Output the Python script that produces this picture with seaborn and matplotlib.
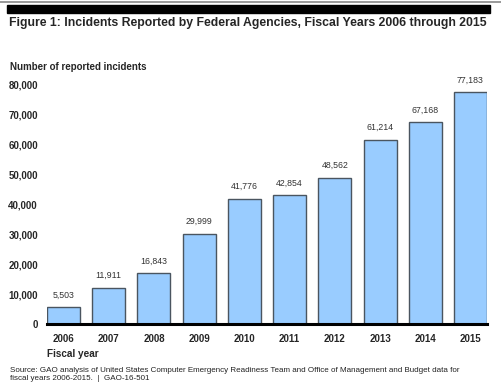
import matplotlib
matplotlib.use("Agg")
import matplotlib.pyplot as plt
import seaborn as sns
import pandas as pd

years = ["2006", "2007", "2008", "2009", "2010", "2011", "2012", "2013", "2014", "2015"]
incidents = [5503, 11911, 16843, 29999, 41776, 42854, 48562, 61214, 67168, 77183]
yticks = [0, 10000, 20000, 30000, 40000, 50000, 60000, 70000, 80000]

df = pd.DataFrame({"year": years, "incidents": incidents})

sns.set_theme(style="white")
plt.rcParams["font.family"] = ["Liberation Sans", "DejaVu Sans"]

fig = plt.figure(figsize=(5.01, 3.9), dpi=100)
ax = fig.add_axes([47/501, 1-324/390, 440/501, 240/390])

sns.barplot(data=df, x="year", y="incidents", color="#99CCFF", saturation=1,
            edgecolor="#4a5560", linewidth=1.0, width=0.73, ax=ax)

for i, v in enumerate(incidents):
    ax.text(i, v + 2700, f"{v:,}", ha="center", va="bottom", fontsize=6.3,
            color="#333333", clip_on=False)

ax.set_ylim(0, 80000)
ax.set_xlim(-0.365, 9.365)
ax.set_yticks(yticks)
ax.set_yticklabels([f"{t:,}" for t in yticks], fontsize=7, fontweight="bold")
ax.set_xticklabels(years, fontsize=7, fontweight="bold")
ax.tick_params(axis="y", length=0, pad=6.5)
ax.tick_params(axis="x", length=0, pad=7)
ax.set_xlabel("")
ax.set_ylabel("")
for s in ["top", "right", "left"]:
    ax.spines[s].set_visible(False)
ax.spines["bottom"].set_color("black")
ax.spines["bottom"].set_linewidth(2.2)
ax.grid(False)

# header rules
fig.add_artist(plt.Line2D([0, 1], [1-1.5/390, 1-1.5/390], color="#888888", lw=1.2))
fig.patches.append(matplotlib.patches.Rectangle((7/501, 1-13/390), 483/501, 8/390,
                   transform=fig.transFigure, color="black", figure=fig))

fig.text(9/501, 1-23/390, "Figure 1: Incidents Reported by Federal Agencies, Fiscal Years 2006 through 2015",
         fontsize=8.85, fontweight="bold", va="center", ha="left")
fig.text(10/501, 1-67/390, "Number of reported incidents", fontsize=7, fontweight="bold",
         va="center", ha="left")
fig.text(47/501, 1-354/390, "Fiscal year", fontsize=7.2, fontweight="bold", va="center", ha="left")
fig.text(10/501, 1-375/390,
         "Source: GAO analysis of United States Computer Emergency Readiness Team and Office of Management and Budget data for\nfiscal years 2006-2015.  |  GAO-16-501",
         fontsize=5.8, va="center", ha="left", color="#222222", linespacing=1.2)

fig.savefig("out.png", dpi=100)
